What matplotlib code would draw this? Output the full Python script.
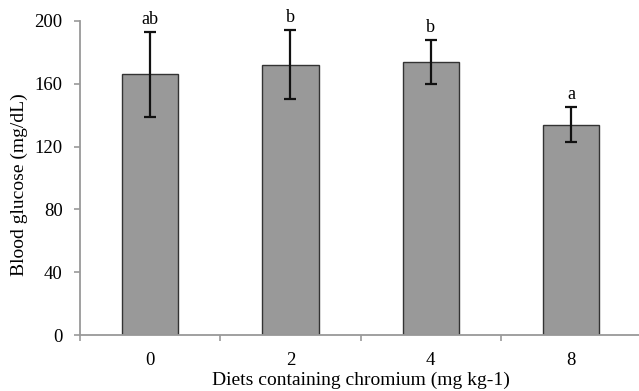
import numpy as np
import matplotlib
matplotlib.use('Agg')
import matplotlib.pyplot as plt

# data
doses = ['0', '2', '4', '8']
glucose = [166, 172, 174, 134]
glucose_err = [27, 22, 14, 11]
letters = ['ab', 'b', 'b', 'a']

plt.rcParams['font.family'] = ['Liberation Serif', 'DejaVu Serif']

fig = plt.figure(figsize=(6.39, 3.91), dpi=100)
ax = fig.add_axes([80 / 639, 56 / 391, 561.3 / 639, 314 / 391])

x = np.arange(len(doses))
ax.bar(x, glucose, width=0.4, color='#999999', edgecolor='#333333', linewidth=1.0, zorder=2)
ax.errorbar(x, glucose, yerr=glucose_err, fmt='none', ecolor='#111111',
            elinewidth=1.6, capsize=4.3, capthick=1.6, zorder=3)

# significance letters above error bars
for xi, g, e, lab in zip(x, glucose, glucose_err, letters):
    ax.text(xi, g + e + 2.5, lab, ha='center', va='bottom', fontsize=13)

ax.set_xlim(-0.5, len(doses) - 0.5)
ax.set_ylim(0, 200)
ax.set_yticks(np.arange(0, 201, 40))

# category ticks sit at the boundaries, labels in the middle
ax.set_xticks(np.arange(-0.5, len(doses) - 0.4, 1.0))
ax.set_xticklabels([])
ax.set_xticks(x, minor=True)
ax.set_xticklabels(doses, minor=True)
ax.tick_params(axis='x', which='major', length=4, width=1.2, color='#999999', direction='out')
ax.tick_params(axis='x', which='minor', length=0, pad=12, labelsize=13.5)
ax.tick_params(axis='y', length=4.5, width=1.2, color='#999999', labelsize=13.5, pad=8)

for side in ['top', 'right']:
    ax.spines[side].set_visible(False)
for side in ['left', 'bottom']:
    ax.spines[side].set_color('#999999')
    ax.spines[side].set_linewidth(1.3)

ax.set_ylabel('Blood glucose (mg/dL)', fontsize=14)
ax.set_xlabel('Diets containing chromium (mg kg-1)', fontsize=14)
ax.yaxis.set_label_coords(-0.093, 0.48)
ax.xaxis.set_label_coords(0.5, -0.118)

fig.savefig('out.png', dpi=100)
